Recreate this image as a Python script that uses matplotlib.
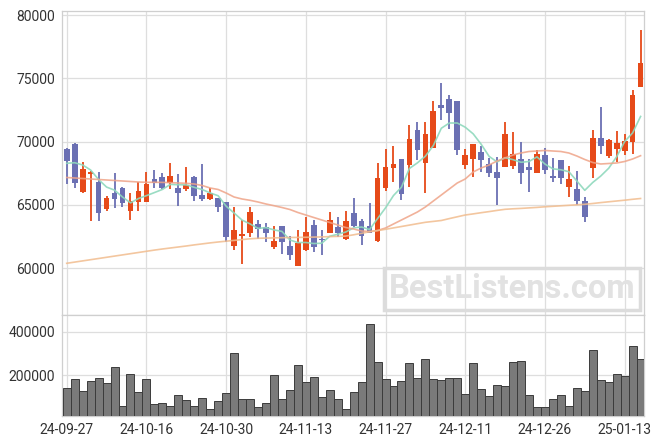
import numpy as np
import pandas as pd
import matplotlib.pyplot as plt

plt.rcParams['font.family'] = ['Roboto', 'DejaVu Sans']

# daily candles, 24-09-27 .. 25-01-15 (trading days)
opens = [69421, 69816, 66050, 67423, 66816, 64708, 65920, 66316, 64500, 65260,
         65260, 67052, 67184, 66713, 66316, 66290, 67210, 65763, 65500, 65528,
         65236, 61790, 62580, 62813, 63474, 63263, 61708, 63342, 61763, 60210,
         61474, 63421, 62342, 62813, 63237, 62290, 64342, 63737, 63342, 62184,
         66366, 67948, 68605, 68158, 70921, 68342, 69526, 72895, 73368, 73210,
         68158, 68658, 69184, 68237, 67605, 67973, 68105, 68605, 67973, 67552,
         68947, 67290, 68553, 66447, 66263, 65316, 67947, 70263, 68895, 69395,
         69263, 69998, 74342]
highs = [69480, 69900, 68371, 67650, 67580, 65710, 67500, 66450, 65920, 66816,
         67580, 67763, 67500, 68290, 67421, 67973, 67290, 68213, 66316, 65528,
         65236, 64816, 63816, 64818, 63816, 63553, 63342, 63342, 62579, 63026,
         64026, 63816, 63026, 64447, 64079, 64526, 65528, 63870, 65184, 68290,
         69395, 69684, 68605, 71316, 71576, 71576, 73187, 74605, 73660, 73210,
         69447, 69816, 69658, 68684, 68763, 71576, 70790, 70000, 68632, 69342,
         69474, 68684, 68553, 68105, 67684, 65605, 70897, 72737, 70200, 70842,
         70605, 74079, 78816]
lows = [66657, 66318, 65971, 63736, 63736, 64550, 64740, 64868, 63816, 64526,
        65200, 66318, 66300, 66240, 64920, 66105, 65290, 65316, 65395, 64420,
        62103, 61447, 60342, 62447, 62290, 62103, 61550, 61110, 60658, 60210,
        61392, 61313, 61053, 62763, 62500, 62237, 63300, 61842, 62763, 62100,
        66105, 66790, 65395, 66447, 68550, 65921, 69500, 71710, 71000, 68947,
        67816, 67184, 67630, 67184, 65000, 67973, 67816, 66632, 66050, 67500,
        67421, 66790, 66632, 65655, 65000, 63684, 67105, 69000, 68684, 68370,
        68947, 69000, 74290]
closes = [68497, 66713, 67842, 67605, 64392, 65528, 65500, 65132, 65290, 66105,
          66658, 66713, 66366, 67290, 65973, 66605, 65736, 65500, 65947, 64866,
          62497, 63026, 62710, 64447, 63079, 62813, 62132, 62103, 61079, 62026,
          62868, 61710, 62237, 63816, 62813, 63737, 63366, 62579, 62813, 67132,
          67973, 68237, 65868, 70210, 69342, 70605, 72447, 72683, 72288, 69342,
          68947, 69816, 68579, 67500, 67158, 70632, 69026, 67552, 67790, 69000,
          67790, 67158, 67158, 67052, 65342, 64079, 70263, 69684, 70132, 69895,
          70053, 73684, 76184]
volumes = [140400, 181600, 128000, 173800, 186200, 163300, 236700, 57800, 204600, 122000,
           181600, 67000, 71600, 57800, 108300, 86700, 57800, 94500, 44000, 80700,
           117400, 300900, 89900, 89900, 53200, 71600, 200000, 89900, 131200, 245900,
           167900, 190800, 99100, 131200, 89900, 45400, 122000, 169300, 433900, 259600,
           181600, 150900, 173800, 255000, 186200, 273400, 181600, 177100, 186200, 186200,
           112800, 255000, 135800, 103700, 154100, 149500, 259600, 264200, 108300, 53200,
           53200, 89900, 108300, 57800, 140400, 126600, 314700, 177100, 167900, 204600,
           195400, 333000, 273400]

# moving averages as shown (the first values depend on days before the window)
ma5_head = [68292, 68339, 68158, 67763]
ma20 = [67171, 67132, 67092, 67053, 67013, 66974, 66934, 66895, 66855, 66816,
        66792, 66792, 66784, 66768, 66737, 66713, 66658, 66539, 66342, 66224,
        65947, 65631, 65474, 65371, 65237, 65079, 64945, 64803, 64645, 64408,
        64210, 64013, 63816, 63618, 63421, 63224, 63105, 62947, 62908, 62987,
        63184, 63500, 63816, 64131, 64447, 64842, 65316, 65789, 66263, 66737,
        67053, 67605, 67921, 68158, 68474, 68711, 68947, 69105, 69224, 69263,
        69303, 69263, 69224, 69105, 68868, 68592, 68355, 68237, 68276, 68316,
        68434, 68632, 68892]
ma60 = [60397, 60492, 60587, 60681, 60776, 60871, 60966, 61060, 61155, 61250,
        61345, 61439, 61526, 61605, 61684, 61763, 61850, 61929, 62008, 62079,
        62142, 62205, 62268, 62331, 62371, 62387, 62402, 62418, 62434, 62442,
        62450, 62466, 62481, 62505, 62521, 62545, 62647, 62766, 62884, 62979,
        63081, 63192, 63302, 63413, 63524, 63634, 63705, 63776, 63926, 64068,
        64210, 64297, 64392, 64479, 64574, 64660, 64700, 64731, 64771, 64810,
        64858, 64897, 64937, 64976, 65016, 65055, 65118, 65189, 65253, 65316,
        65379, 65450, 65513]

tick_pos = [0, 10, 20, 30, 40, 50, 60, 70]
tick_labels = ['24-09-27', '24-10-16', '24-10-30', '24-11-13',
               '24-11-27', '24-12-11', '24-12-26', '25-01-13']

df = pd.DataFrame({'open': opens, 'high': highs, 'low': lows, 'close': closes, 'volume': volumes})
ma5 = df['close'].rolling(5).mean()
ma5.iloc[:4] = ma5_head
x = np.arange(len(df))

up_col = '#e64a19'
down_col = '#6b70b3'
grid_col = '#dedede'

fig = plt.figure(figsize=(6.63, 4.45), dpi=100)
ax = fig.add_axes([62/663, 1-315/445, 582/663, 304/445])
axv = fig.add_axes([62/663, 1-416/445, 582/663, 101/445], sharex=ax)

up = df['close'] >= df['open']
colors = np.where(up, up_col, down_col)
body_lo = np.minimum(df['open'], df['close'])
body_h = np.maximum((df['close'] - df['open']).abs(), 60)

ax.vlines(x, df['low'], df['high'], colors=colors, linewidth=1.3, zorder=2)
ax.bar(x, body_h, bottom=body_lo, width=0.72, color=colors, linewidth=0, zorder=3)

ax.plot(x, ma5, color='#8fd9bd', linewidth=1.2, alpha=0.9, zorder=4)
ax.plot(x, ma20, color='#efa488', linewidth=1.2, alpha=0.85, zorder=4)
ax.plot(x, ma60, color='#f1bc8e', linewidth=1.2, alpha=0.85, zorder=4)

ax.set_xlim(-0.59, 72.43)
ax.set_ylim(56315, 80316)
ax.set_yticks([60000, 65000, 70000, 75000, 80000])
ax.set_xticks(tick_pos)
ax.tick_params(axis='x', labelbottom=False, length=0)
ax.tick_params(axis='y', length=0, labelsize=10, labelcolor='#333333', pad=5)
ax.grid(True, color=grid_col, linewidth=0.9)
ax.set_axisbelow(True)

axv.bar(x, df['volume'], width=1.0, color='#7a7a7a', edgecolor='#3c3c3c', linewidth=0.7, zorder=3)
axv.set_ylim(13300, 476600)
axv.set_yticks([200000, 400000])
axv.set_xticks(tick_pos)
axv.set_xticklabels(tick_labels)
axv.tick_params(axis='both', length=0, labelsize=10, labelcolor='#333333')
axv.tick_params(axis='y', pad=5)
axv.tick_params(axis='x', pad=5)
axv.grid(True, color=grid_col, linewidth=0.9)
axv.set_axisbelow(True)

for a in (ax, axv):
    for s in a.spines.values():
        s.set_color('#cfcfcf')
        s.set_linewidth(0.9)

fig.text(512/663, 1-289/445, 'BestListens.com', fontsize=23.5, fontweight='bold',
         color='#e2e2e2', ha='center', va='center', zorder=10,
         bbox=dict(boxstyle='square,pad=0.14', facecolor='none', edgecolor='#dcdcdc', linewidth=2.5))

fig.savefig('out.png', dpi=100)
